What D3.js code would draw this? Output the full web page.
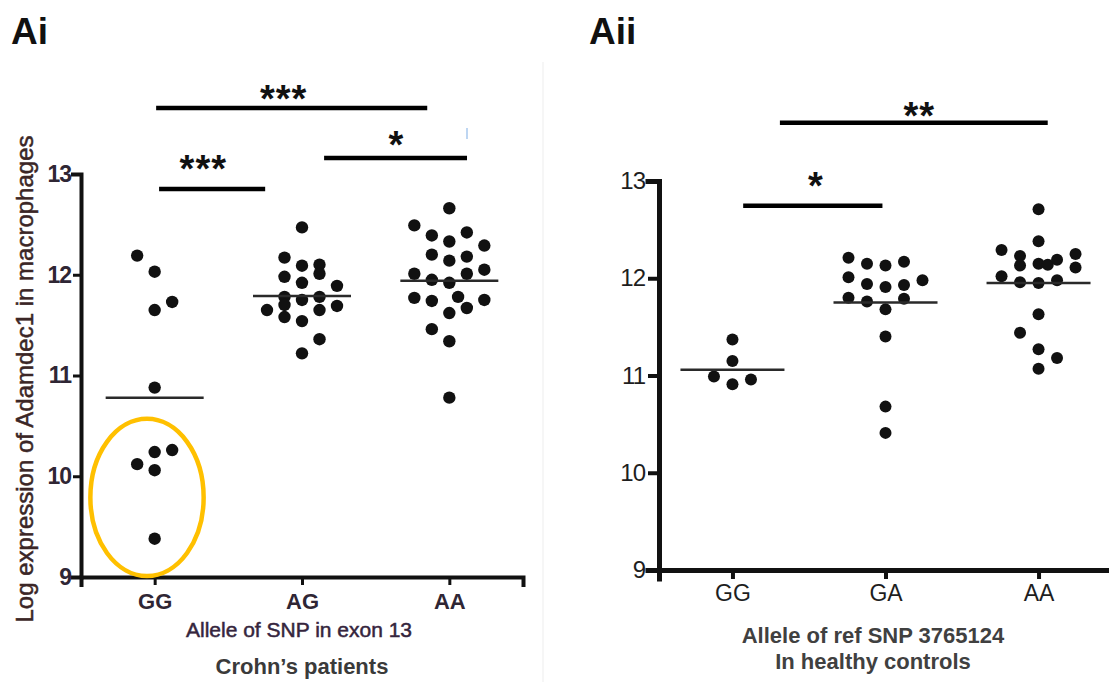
<!DOCTYPE html>
<html>
<head>
<meta charset="utf-8">
<script src="https://cdn.jsdelivr.net/npm/d3@7"></script>
<style>
	body { margin: 0; background: #fff; }
	text { font-family: "Liberation Sans", Arial, sans-serif; }
</style>
</head>
<body>
<div id="chart"></div>
<script>
// Panel Ai - Crohn's patients
const cats_ai = ["GG", "AG", "AA"];
// each point: [log expression, column slot]
const ai_GG = [[12.19, -1], [12.03, 0], [11.73, 1], [11.65, 0], [10.88, 0],
	[10.26, 1], [10.24, 0], [10.12, -1], [10.06, 0], [9.38, 0]];
const ai_AG = [[12.47, 0], [12.17, -1], [12.09, 0], [12.10, 1], [12.01, 1], [11.98, -1],
	[11.92, 0], [11.89, 2], [11.78, -1], [11.75, 0], [11.78, 1], [11.70, -1], [11.65, -2],
	[11.65, 1], [11.69, 2], [11.58, -1], [11.54, 0], [11.36, 1], [11.22, 0]];
const ai_AA = [[12.66, 0], [12.49, -2], [12.39, -1], [12.42, 1], [12.33, 0], [12.29, 2],
	[12.20, -1], [12.18, 1], [12.14, 0], [12.01, -2], [12.01, 1], [12.05, 2], [11.95, -1],
	[11.92, 0], [11.77, -2], [11.74, -1], [11.78, 0.5], [11.75, 2], [11.62, 0], [11.67, 1],
	[11.46, -1], [11.34, 0], [10.78, 0]];
const ai_means = [10.78, 11.79, 11.94];

// Panel Aii - healthy controls
const cats_aii = ["GG", "GA", "AA"];
const aii_GG = [[11.37, 0], [11.15, 0], [10.99, -1], [10.91, 0], [10.96, 1]];
const aii_GA = [[12.21, -2], [12.15, -1], [12.13, 0], [12.17, 1], [12.01, -2], [11.94, -1],
	[11.91, 0], [11.93, 1], [11.98, 2], [11.80, -2], [11.76, -1], [11.79, 1], [11.68, 0],
	[11.40, 0], [10.68, 0], [10.41, 0]];
const aii_AA = [[12.71, 0], [12.38, 0], [12.29, -2], [12.23, -1], [12.13, -1], [12.15, 0],
	[12.14, 0.5], [12.19, 1], [12.25, 2], [12.11, 2], [12.02, -2], [11.96, -1], [11.95, 0],
	[11.98, 1], [11.63, 0], [11.44, -1], [11.27, 0], [11.18, 1], [11.07, 0]];
const aii_means = [11.06, 11.75, 11.95];

const y_ticks = [9, 10, 11, 12, 13];

// significance bars: span in category steps, level in y units
const ai_sig = [
	{label: "***", from: 0.01, to: 1.85, at: 0.875, level: 13.655, text: 13.83},
	{label: "***", from: 0.03, to: 0.75, at: 0.33, level: 12.85, text: 13.14},
	{label: "*", from: 1.15, to: 2.12, at: 1.64, level: 13.16, text: 13.38}
];
const aii_sig = [
	{label: "**", from: 0.31, to: 2.06, at: 1.22, level: 13.60, text: 13.76},
	{label: "*", from: 0.07, to: 0.98, at: 0.546, level: 12.745, text: 13.04}
];

const width = 1109, height = 682;

let svg = d3.select("#chart").append("svg")
	.attr("width", width)
	.attr("height", height)
	.style("background", "#fff");

// faint edge of the pasted left figure
svg.append("line")
	.attr("x1", 543).attr("x2", 543).attr("y1", 62).attr("y2", 682)
	.attr("stroke", "#ededed").attr("stroke-width", 1);

function drawPanel(p) {
	let x = d3.scalePoint().domain(p.cats).range(p.xRange).padding(p.pad);
	let y = d3.scaleLinear().domain([9, 13]).range(p.yRange);
	let step = x.step();
	let xi = function(i) { return x(p.cats[0]) + i * step; };

	let g = svg.append("g");

	// x axis
	let xa = g.append("g")
		.attr("transform", "translate(0," + p.yRange[0] + ")")
		.call(d3.axisBottom(x).tickSizeOuter(0).tickSize(p.xTick).tickPadding(p.xPad));
	xa.attr("font-size", null).attr("font-family", null);
	xa.select(".domain").attr("stroke", "#111").attr("stroke-width", p.axisW).attr("stroke-linecap", "square");
	xa.selectAll(".tick line").attr("stroke", "#111").attr("stroke-width", p.axisW - 1);
	xa.selectAll(".tick text")
		.style("font-size", p.catSize + "px")
		.style("font-weight", p.bold ? "bold" : "normal")
		.attr("fill", p.tickColor);

	// y axis
	let ya = g.append("g")
		.attr("transform", "translate(" + p.xRange[0] + ",0)")
		.call(d3.axisLeft(y).tickValues(y_ticks).tickFormat(d3.format("d")).tickSizeOuter(0).tickSize(p.yTick).tickPadding(p.yPad));
	ya.attr("font-size", null).attr("font-family", null);
	ya.select(".domain").attr("stroke", "#111").attr("stroke-width", p.axisW).attr("stroke-linecap", "square");
	ya.selectAll(".tick line").attr("stroke", "#111").attr("stroke-width", p.axisW - 1);
	ya.selectAll(".tick text")
		.style("font-size", p.numSize + "px")
		.style("font-weight", p.bold ? "bold" : "normal")
		.style("letter-spacing", "-1px")
		.attr("fill", p.tickColor);

	// dots
	p.groups.forEach(function(grp, gi) {
		g.append("g").selectAll("circle").data(grp).enter()
			.append("circle")
			.attr("cx", function(d) { return x(p.cats[gi]) + d[1] * p.slot; })
			.attr("cy", function(d) { return y(d[0]); })
			.attr("r", p.r)
			.attr("fill", "#111");
	});

	// mean lines
	g.append("g").selectAll("line").data(p.means).enter()
		.append("line")
		.attr("x1", function(d, i) { return x(p.cats[i]) - p.meanHalf; })
		.attr("x2", function(d, i) { return x(p.cats[i]) + p.meanHalf; })
		.attr("y1", function(d) { return y(d); })
		.attr("y2", function(d) { return y(d); })
		.attr("stroke", "#2a2a2a")
		.attr("stroke-width", 2.5);

	// significance bars
	g.append("g").selectAll("line").data(p.sig).enter()
		.append("line")
		.attr("x1", function(d) { return xi(d.from); })
		.attr("x2", function(d) { return xi(d.to); })
		.attr("y1", function(d) { return y(d.level); })
		.attr("y2", function(d) { return y(d.level); })
		.attr("stroke", "#000")
		.attr("stroke-width", 4.5);

	g.append("g").selectAll("text").data(p.sig).enter()
		.append("text")
		.attr("x", function(d) { return xi(d.at); })
		.attr("y", function(d) { return y(d.text) + 22; })
		.attr("text-anchor", "middle")
		.style("font-size", "38px")
		.style("font-weight", "bold")
		.style("letter-spacing", "1px")
		.attr("fill", "#111")
		.text(function(d) { return d.label; });

	return {x: x, y: y, xi: xi, g: g};
}

// Panel Ai
let ai = drawPanel({
	cats: cats_ai, groups: [ai_GG, ai_AG, ai_AA], means: ai_means, sig: ai_sig,
	xRange: [81, 523], yRange: [577, 174], pad: 0.5,
	axisW: 4, xTick: 8, xPad: 8, yTick: 8, yPad: 2,
	catSize: 22, numSize: 23, bold: true, tickColor: "#2f2634",
	slot: 17.5, r: 6.2, meanHalf: 49
});

// highlight ellipse around the low GG samples
ai.g.append("ellipse")
	.attr("cx", (ai.xi(-0.45) + ai.xi(0.346)) / 2)
	.attr("cy", (ai.y(10.59) + ai.y(8.99)) / 2)
	.attr("rx", (ai.xi(0.346) - ai.xi(-0.45)) / 2 - 2)
	.attr("ry", (ai.y(8.99) - ai.y(10.59)) / 2 - 2)
	.attr("fill", "none")
	.attr("stroke", "#FFC000")
	.attr("stroke-width", 4.5);

// small blue mark next to "*"
ai.g.append("line")
	.attr("x1", 467).attr("x2", 467).attr("y1", 128).attr("y2", 139)
	.attr("stroke", "#a9c8ee").attr("stroke-width", 1.5);

// Panel Aii
drawPanel({
	cats: cats_aii, groups: [aii_GG, aii_GA, aii_AA], means: aii_means, sig: aii_sig,
	xRange: [659, 1112], yRange: [570, 181], pad: 0.48,
	axisW: 5, xTick: 9, xPad: 6, yTick: 11, yPad: 3,
	catSize: 23, numSize: 24, bold: false, tickColor: "#1e1e1e",
	slot: 18.5, r: 6, meanHalf: 52
});

// Panel labels
svg.append("text").attr("x", 11).attr("y", 44)
	.style("font-size", "37px").style("font-weight", "bold").attr("fill", "#111").text("Ai");
svg.append("text").attr("x", 589).attr("y", 44)
	.style("font-size", "37px").style("font-weight", "bold").attr("fill", "#111").text("Aii");

// Ai axis titles
svg.append("text")
	.attr("transform", "translate(33,379)rotate(-90)")
	.attr("text-anchor", "middle")
	.style("font-size", "24px")
	.attr("fill", "#3b2626")
	.attr("stroke", "#3b2626")
	.attr("stroke-width", 0.5)
	.text("Log expression of Adamdec1 in macrophages");

svg.append("text")
	.attr("x", 299).attr("y", 637)
	.attr("text-anchor", "middle")
	.style("font-size", "21px")
	.attr("fill", "#35253d")
	.attr("stroke", "#35253d")
	.attr("stroke-width", 0.5)
	.text("Allele of SNP in exon 13");

svg.append("text")
	.attr("x", 302).attr("y", 674)
	.attr("text-anchor", "middle")
	.style("font-size", "22px")
	.style("font-weight", "bold")
	.attr("fill", "#3a3a3a")
	.text("Crohn\u2019s patients");

// Aii axis title
svg.append("text")
	.attr("x", 873).attr("y", 643)
	.attr("text-anchor", "middle")
	.style("font-size", "22px")
	.style("font-weight", "bold")
	.attr("fill", "#404040")
	.text("Allele of ref SNP 3765124");

svg.append("text")
	.attr("x", 873).attr("y", 669)
	.attr("text-anchor", "middle")
	.style("font-size", "22px")
	.style("font-weight", "bold")
	.attr("fill", "#404040")
	.text("In healthy controls");
</script>
</body>
</html>
